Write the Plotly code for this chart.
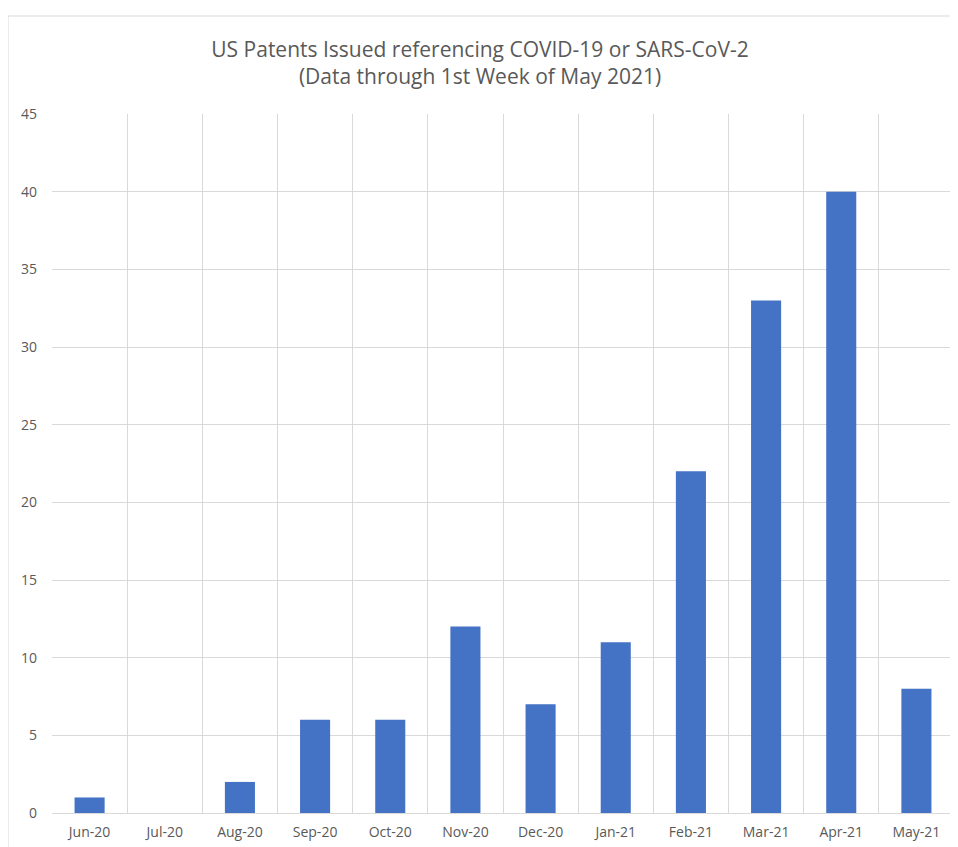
import plotly.graph_objects as go

months = ["Jun-20", "Jul-20", "Aug-20", "Sep-20", "Oct-20", "Nov-20",
          "Dec-20", "Jan-21", "Feb-21", "Mar-21", "Apr-21", "May-21"]
patents = [1, 0, 2, 6, 6, 12, 7, 11, 22, 33, 40, 8]
y_ticks = [0, 5, 10, 15, 20, 25, 30, 35, 40, 45]

# page body has an 8px margin, so the figure is drawn 8px smaller
OFF = 8
W, H = 958 - OFF, 847 - OFF
L, R, T, B = 52 - OFF, 4, 114 - OFF, 34

fig = go.Figure(go.Bar(x=months, y=patents, marker=dict(color="#4472C4", line=dict(width=0)),
                       width=0.4))

fig.update_layout(
    width=W, height=H,
    margin=dict(l=L, r=R, t=T, b=B),
    paper_bgcolor="white", plot_bgcolor="white",
    font=dict(family="Open Sans, sans-serif", color="#595959"),
    title=dict(text="US Patents Issued referencing COVID-19 or SARS-CoV-2<br>(Data through 1st Week of May 2021)",
               x=(480 - OFF - L) / (W - L - R), xref="paper", xanchor="center",
               y=1 - (57 - OFF) / H, yanchor="middle",
               font=dict(size=21, color="#595959")),
    showlegend=False,
    bargap=0.6,
)
fig.update_xaxes(type="category", tickson="boundaries", showgrid=True, gridcolor="#d9d9d9",
                 gridwidth=1, showline=True, linecolor="#d9d9d9", mirror=False,
                 ticks="", tickfont=dict(size=14, color="#595959"), ticklabelstandoff=6,
                 zeroline=False)
fig.update_yaxes(range=[0, 45], tickvals=y_ticks, showgrid=True, gridcolor="#d9d9d9",
                 gridwidth=1, zeroline=False, showline=False, ticks="",
                 tickfont=dict(size=14, color="#595959"), ticklabelstandoff=14)

# outer chart border
pw, ph = W - L - R, H - T - B
fig.add_shape(type="rect", xref="paper", yref="paper",
              x0=(8 - OFF - L) / pw, x1=(W + 10 - L) / pw,
              y0=-(B + 10) / ph, y1=(H - B - (16 - OFF)) / ph,
              line=dict(color="#d9d9d9", width=1), fillcolor="rgba(0,0,0,0)", layer="below")

fig.write_html("out.html")
